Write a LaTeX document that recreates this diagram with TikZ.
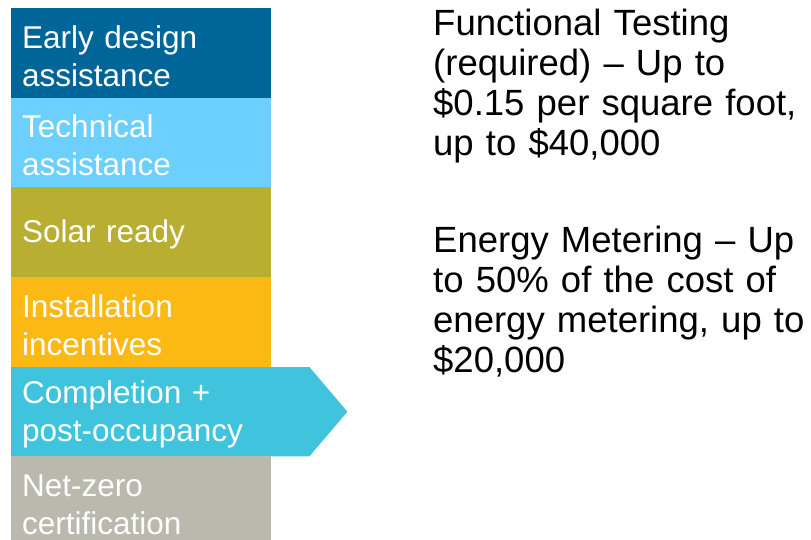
\documentclass[tikz,border=0pt]{standalone}
\usepackage{fontspec}
\setmainfont{Liberation Sans}
\usetikzlibrary{backgrounds}
\definecolor{cEarly}{RGB}{0,102,153}
\definecolor{cTech}{RGB}{109,207,253}
\definecolor{cSolar}{RGB}{184,174,50}
\definecolor{cInst}{RGB}{253,185,19}
\definecolor{cComp}{RGB}{64,196,221}
\definecolor{cNet}{RGB}{185,186,173}
\tikzset{
  stage/.style={rectangle, anchor=north west, minimum width=260pt, text width=238pt,
    inner xsep=11pt, inner ysep=0pt, align=left, text=white,
    font=\fontsize{31.5}{38}\selectfont,
    execute at begin node={\rule{0pt}{28pt}}},
  info/.style={anchor=base west, inner sep=0pt, text width=400pt, align=left,
    text=black, font=\fontsize{36.5}{40}\selectfont}
}
\begin{document}
\begin{tikzpicture}[x=1pt,y=-1pt]
\useasboundingbox (0,0) rectangle (811,540);
\clip (0,0) rectangle (811,540);
\node[stage, fill=cEarly, minimum height=90pt] (s1) at (11,8) {Early design\\assistance};
\node[stage, fill=cTech, minimum height=89pt] (s2) at (11,98) {Technical\\assistance};
\node[stage, fill=cSolar, minimum height=90pt] (s3) at (11,187) {Solar ready};
\node[stage, fill=cInst, minimum height=90pt] (s4) at (11,277) {Installation\\incentives};
\node[stage, minimum height=89pt] (s5) at (11,367) {Completion +\\post-occupancy};
\node[stage, fill=cNet, minimum height=90pt] (s6) at (11,456) {Net-zero\\certification};
\begin{scope}[on background layer]
\fill[cComp] (s5.north west) -- ([xshift=38pt]s5.north east) -- ([xshift=76pt]s5.east)
  -- ([xshift=38pt]s5.south east) -- (s5.south west) -- cycle;
\end{scope}
\node[info] (t1) at (433,36) {Functional Testing\\(required) – Up to\\\$0.15 per square foot,\\up to \$40,000};
\node[info] (t2) at (433,252) {Energy Metering – Up\\to 50\% of the cost of\\energy metering, up to\\\$20,000};
\end{tikzpicture}
\end{document}
